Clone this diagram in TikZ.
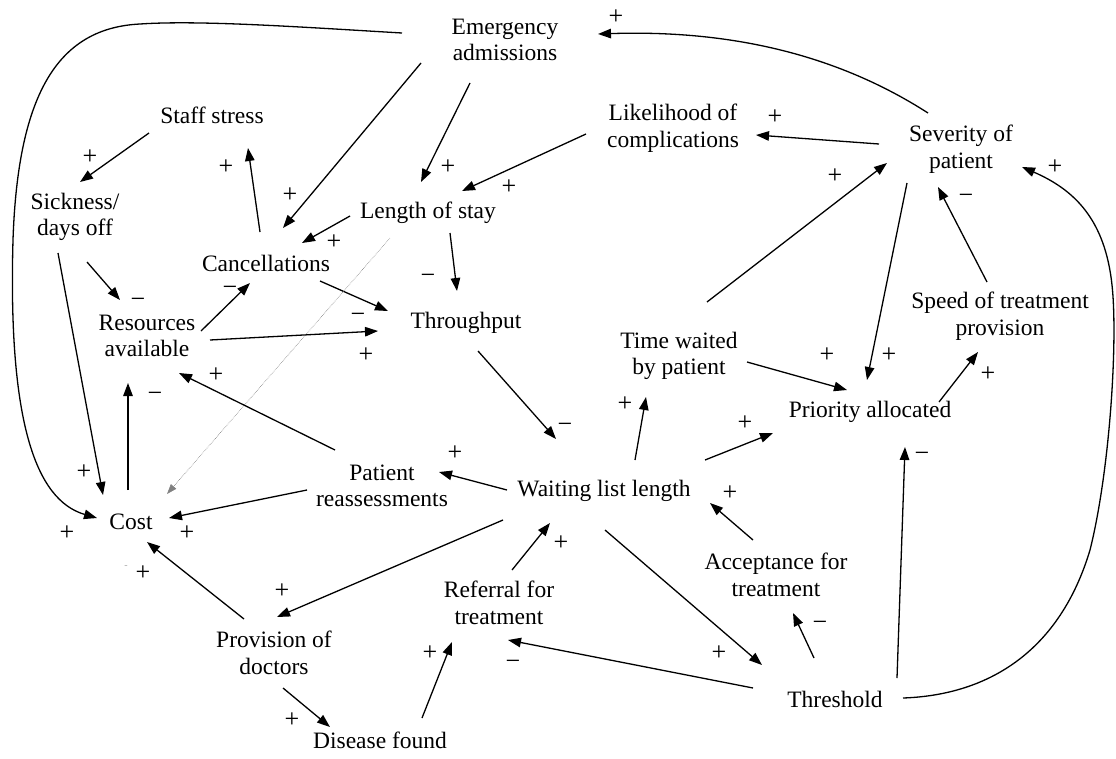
\documentclass[tikz,border=0pt]{standalone}
\usepackage{fontspec}
\setmainfont{Liberation Serif}
\usetikzlibrary{calc,arrows.meta}
\begin{document}
\begin{tikzpicture}[x=1pt,y=-1pt,
  var/.style={inner sep=0pt,align=center,font=\fontsize{23.5}{26.5}\selectfont},
  lab/.style={inner sep=0pt,font=\fontsize{26}{26}\selectfont},
  faint/.style={inner sep=0pt,text=gray!70,font=\fontsize{10}{10}\selectfont},
  arr/.style={line width=1.3pt,-{Triangle[length=13pt,width=9.5pt]}},
  thin dots/.style={gray,line width=0.6pt,densely dotted,-{Triangle[length=10pt,width=7pt]}}]
\useasboundingbox (0,0) rectangle (1116,758);

% variables of the causal loop model
\node[var] (em)   at (505,40)  {Emergency\\admissions};
\node[var] (ss)   at (212,115) {Staff stress};
\node[var] (sick) at (75,217)  {Sickness/\\days off};
\node[var] (los)  at (428,213) {Length of stay};
\node[var] (canc) at (266,263) {Cancellations};
\node[var] (res)  at (147,336) {Resources\\available};
\node[var] (thr)  at (466,323) {Throughput};
\node[var] (lik)  at (673,128) {Likelihood of\\complications};
\node[var] (sev)  at (961,149) {Severity of\\patient};
\node[var] (tw)   at (679,356) {Time waited\\by patient};
\node[var] (spd)  at (1000,316) {Speed of treatment\\provision};
\node[var] (pri)  at (870,412) {Priority allocated};
\node[var] (pr)   at (382,486) {Patient\\reassessments};
\node[var] (wl)   at (604,491) {Waiting list length};
\node[var] (cost) at (131,522) {Cost};
\node[var] (acc)  at (776,575) {Acceptance for\\treatment};
\node[var] (ref)  at (499,603) {Referral for\\treatment};
\node[var] (doc)  at (274,653) {Provision of\\doctors};
\node[var] (dis)  at (380,740) {Disease found};
\node[var] (th)   at (835,699) {Threshold};

% curved links
\draw[arr] ($(em)+(-103,-7)$) .. controls (300,27) and (200,20) .. (140,24)
  .. controls (60,28) and (18,90) .. (13,240)
  .. controls (8,420) and (35,500) .. ($(cost)+(-34,-4)$);
\draw[arr] ($(sev)+(-33,-36)$) .. controls (830,50) and (720,30) .. ($(em)+(93,-6)$);
\draw[arr] ($(th)+(68,-1)$) .. controls (990,695) and (1060,650) .. (1090,550)
  .. controls (1110,470) and (1118,340) .. (1112,285)
  .. controls (1105,220) and (1075,190) .. ($(sev)+(61,18)$);

% straight links
\draw[arr] ($(em)+(-84,23)$)   -- ($(canc)+(17,-35)$);
\draw[arr] ($(em)+(-35,43)$)   -- ($(los)+(-7,-31)$);
\draw[arr] ($(sev)+(-82,-5)$)  -- ($(lik)+(83,7)$);
\draw[arr] ($(lik)+(-87,6)$)   -- ($(los)+(34,-22)$);
\draw[arr] ($(ss)+(-63,18)$)   -- ($(sick)+(5,-35)$);
\draw[arr] ($(canc)+(-6,-31)$) -- ($(ss)+(36,33)$);
\draw[arr] ($(los)+(-78,3)$)   -- ($(canc)+(36,-20)$);
\draw[arr] ($(sick)+(12,45)$)  -- ($(res)+(-27,-36)$);
\draw[arr] ($(sick)+(-17,36)$) -- ($(cost)+(-28,-27)$);
\draw[arr] ($(cost)+(-3,-32)$) -- ($(res)+(-19,47)$);
\draw[arr] ($(res)+(54,-5)$)   -- ($(canc)+(-16,20)$);
\draw[arr] ($(res)+(63,4)$)    -- ($(thr)+(-88,8)$);
\draw[arr] ($(canc)+(54,18)$)  -- ($(thr)+(-78,-12)$);
\draw[arr] ($(los)+(22,20)$)   -- ($(thr)+(-9,-32)$);
\draw[thin dots] ($(los)+(-38,25)$) -- ($(cost)+(36,-28)$);
\draw[arr] ($(pr)+(-47,-36)$)  -- ($(res)+(32,37)$);
\draw[arr] ($(pr)+(-75,4)$)    -- ($(cost)+(38,-4)$);
\draw[arr] ($(thr)+(12,28)$)   -- ($(wl)+(-48,-52)$);
\draw[arr] ($(wl)+(-97,-1)$)   -- ($(pr)+(57,-14)$);
\draw[arr] ($(wl)+(31,-31)$)   -- ($(tw)+(-33,41)$);
\draw[arr] ($(wl)+(101,-31)$)  -- ($(pri)+(-97,21)$);
\draw[arr] ($(tw)+(68,6)$)     -- ($(pri)+(-23,-22)$);
\draw[arr] ($(tw)+(28,-54)$)   -- ($(sev)+(-74,14)$);
\draw[arr] ($(sev)+(-54,34)$)  -- ($(pri)+(-3,-32)$);
\draw[arr] ($(spd)+(-13,-34)$) -- ($(sev)+(-23,38)$);
\draw[arr] ($(pri)+(69,-10)$)  -- ($(spd)+(-22,36)$);
\draw[arr] ($(th)+(62,-21)$)   -- ($(pri)+(35,35)$);
\draw[arr] ($(th)+(-21,-41)$)  -- ($(acc)+(17,38)$);
\draw[arr] ($(acc)+(-23,-35)$) -- ($(wl)+(106,12)$);
\draw[arr] ($(wl)+(1,39)$)     -- ($(th)+(-73,-34)$);
\draw[arr] ($(th)+(-82,-11)$)  -- ($(ref)+(9,37)$);
\draw[arr] ($(ref)+(13,-33)$)  -- ($(wl)+(-54,32)$);
\draw[arr] ($(wl)+(-101,29)$)  -- ($(doc)+(3,-36)$);
\draw[arr] ($(doc)+(-30,-34)$) -- ($(cost)+(16,20)$);
\draw[arr] ($(doc)+(9,35)$)    -- ($(dis)+(-50,-13)$);
\draw[arr] ($(dis)+(42,-22)$)  -- ($(ref)+(-47,39)$);

% link polarities
\node[lab] (p1)  at (616,17)  {+};
\node[lab] (p2)  at (775,117) {+};
\node[lab] (p3)  at (1055,167) {+};
\node[lab] (p4)  at (90,157)  {+};
\node[lab] (p5)  at (226,167) {+};
\node[lab] (p6)  at (290,195) {+};
\node[lab] (p7)  at (448,167) {+};
\node[lab] (p8)  at (509,187) {+};
\node[lab] (p9)  at (835,176) {+};
\node[lab] (p10) at (966,199) {−};
\node[lab] (p11) at (334,242) {+};
\node[lab] (p12) at (138,303) {−};
\node[lab] (p13) at (230,291) {−};
\node[lab] (p14) at (428,279) {−};
\node[lab] (p15) at (358,318) {−};
\node[lab] (p16) at (366,355) {+};
\node[lab] (p17) at (216,375) {+};
\node[lab] (p18) at (155,397) {−};
\node[lab] (p19) at (625,404) {+};
\node[lab] (p20) at (827,355) {+};
\node[lab] (p21) at (889,355) {+};
\node[lab] (p22) at (988,374) {+};
\node[lab] (p23) at (745,423) {+};
\node[lab] (p24) at (565,428) {−};
\node[lab] (p25) at (455,453) {+};
\node[lab] (p26) at (922,457) {−};
\node[lab] (p27) at (84,472)  {+};
\node[lab] (p28) at (730,493) {+};
\node[lab] (p29) at (67,533)  {+};
\node[lab] (p30) at (187,533) {+};
\node[lab] (p31) at (561,543) {+};
\node[lab] (p32) at (143,573) {+};
\node[faint] (p33) at (126,567) {-};
\node[lab] (p34) at (282,591) {+};
\node[lab] (p35) at (820,626) {−};
\node[lab] (p36) at (430,653) {+};
\node[lab] (p37) at (719,653) {+};
\node[lab] (p38) at (513,665) {−};
\node[lab] (p39) at (292,720) {+};
\end{tikzpicture}
\end{document}
